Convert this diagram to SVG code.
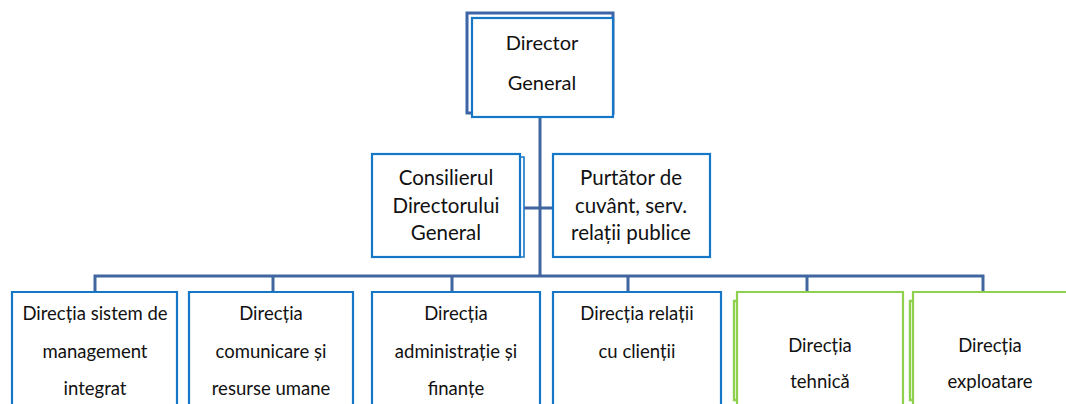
<svg xmlns="http://www.w3.org/2000/svg" width="1066" height="404" viewBox="0 0 1066 404">
<style>
.box{fill:#fff;stroke:#1677c7;stroke-width:2.2}
.gbox{fill:#fff;stroke:#8fd14f;stroke-width:2.2}
.sh{fill:none;stroke:#1677c7;stroke-width:1.6}
.gsh{fill:none;stroke:#8fd14f;stroke-width:2.4}
.dsh{fill:#fff;stroke:#3d64a6;stroke-width:3}
.con{fill:none;stroke:#41669f;stroke-width:3}
text{font-family:Lato,"Open Sans","Liberation Sans",sans-serif;fill:#111;text-anchor:middle}
.t1{font-size:20px}
.t2{font-size:20.5px}
.t3{font-size:18.5px}
</style>
<g id="connectors">
<path class="con" d="M540,117V276M524,208H553M95,291V276H983V291M273,276V291M452,276V291M628,276V291M807,276V291"/>
</g>
<g id="director">
<rect class="dsh" x="467" y="13" width="146" height="100"/>
<rect class="box" x="472" y="18" width="141" height="99"/>
<text class="t1" x="542" y="50">Director</text>
<text class="t1" x="542" y="90">General</text>
</g>
<g id="consilier">
<path class="sh" d="M520,157H524V257H520"/>
<rect class="box" x="372" y="154" width="148" height="103"/>
<text class="t2" x="446" y="185">Consilierul</text>
<text class="t2" x="446" y="213">Directorului</text>
<text class="t2" x="446" y="240">General</text>
</g>
<g id="purtator">
<rect class="box" x="553" y="154" width="157" height="103"/>
<text class="t2" x="631" y="185">Purtător de</text>
<text class="t2" x="631" y="213">cuvânt, serv.</text>
<text class="t2" x="631" y="240">relații publice</text>
</g>
<g id="dir-management">
<path class="box" d="M12,410V292H177V410"/>
<text class="t3" x="95" y="320">Direcția sistem de</text>
<text class="t3" x="95" y="358">management</text>
<text class="t3" x="95" y="395">integrat</text>
</g>
<g id="dir-comunicare">
<path class="box" d="M189,410V292H353V410"/>
<text class="t3" x="271" y="320">Direcția</text>
<text class="t3" x="271" y="358">comunicare și</text>
<text class="t3" x="271" y="395">resurse umane</text>
</g>
<g id="dir-administratie">
<path class="box" d="M372,410V292H540V410"/>
<text class="t3" x="456" y="320">Direcția</text>
<text class="t3" x="456" y="358">administrație și</text>
<text class="t3" x="456" y="395">finanțe</text>
</g>
<g id="dir-relatii">
<path class="box" d="M553,410V292H721V410"/>
<text class="t3" x="637" y="320">Direcția relații</text>
<text class="t3" x="637" y="358">cu clienții</text>
</g>
<g id="dir-tehnica">
<path class="gsh" d="M737,301H734V400H737"/>
<path class="gbox" d="M737,410V292H903V410"/>
<text class="t3" x="820" y="352">Direcția</text>
<text class="t3" x="820" y="388">tehnică</text>
</g>
<g id="dir-exploatare">
<path class="gsh" d="M913,301H910V400H913"/>
<path class="gbox" d="M913,410V292H1070"/>
<text class="t3" x="990" y="352">Direcția</text>
<text class="t3" x="990" y="388">exploatare</text>
</g>
</svg>
